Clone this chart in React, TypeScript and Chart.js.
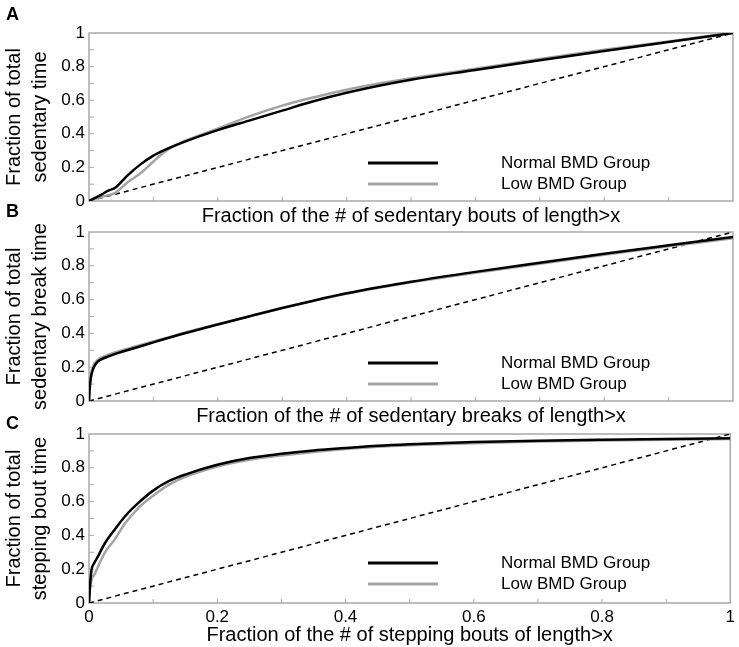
import React, { useEffect, useRef } from "react"
import { Chart, registerables } from "chart.js"

Chart.register(...registerables)

const FONT = "'Liberation Sans', Arial, Helvetica, sans-serif"
const GRAY = "#a3a3a3"
const BOX = "#a9a9a9"

const seriesNames = ["Normal BMD Group", "Low BMD Group"]
const axisTicks = [0, 0.2, 0.4, 0.6, 0.8, 1]
const minorStep = 0.1
const diagonal = [0, 1]

// A: sedentary bouts
const aX = [0, 0.01, 0.02, 0.03, 0.04, 0.06, 0.08, 0.1, 0.12, 0.15, 0.2, 0.25, 0.3, 0.35, 0.4, 0.45, 0.5, 0.6, 0.7, 0.8, 0.9, 0.95, 1]
const aNormal = [0, 0.02, 0.04, 0.062, 0.077, 0.153, 0.218, 0.27, 0.308, 0.355, 0.422, 0.48, 0.538, 0.595, 0.644, 0.686, 0.722, 0.78, 0.838, 0.893, 0.946, 0.973, 1]
const aLow = [0, 0.012, 0.025, 0.035, 0.047, 0.112, 0.165, 0.235, 0.3, 0.36, 0.43, 0.505, 0.568, 0.618, 0.662, 0.699, 0.73, 0.787, 0.845, 0.9, 0.95, 0.976, 1]

// B: sedentary breaks
const bX = [0, 0.001, 0.003, 0.007, 0.014, 0.025, 0.05, 0.075, 0.1, 0.15, 0.2, 0.25, 0.3, 0.35, 0.4, 0.45, 0.5, 0.6, 0.7, 0.8, 0.9, 1]
const bNormal = [0, 0.07, 0.14, 0.195, 0.235, 0.256, 0.29, 0.318, 0.347, 0.402, 0.453, 0.502, 0.55, 0.595, 0.637, 0.673, 0.706, 0.764, 0.818, 0.871, 0.921, 0.97]
const bLow = [0, 0.09, 0.16, 0.21, 0.245, 0.266, 0.298, 0.325, 0.352, 0.406, 0.455, 0.503, 0.55, 0.594, 0.635, 0.67, 0.702, 0.759, 0.812, 0.865, 0.915, 0.963]

// C: stepping bouts
const cX = [0, 0.0015, 0.004, 0.008, 0.014, 0.025, 0.04, 0.056, 0.077, 0.1, 0.125, 0.15, 0.2, 0.25, 0.3, 0.35, 0.4, 0.45, 0.5, 0.6, 0.7, 0.8, 0.9, 1]
const cNormal = [0, 0.098, 0.197, 0.235, 0.276, 0.355, 0.434, 0.512, 0.592, 0.665, 0.722, 0.76, 0.818, 0.858, 0.883, 0.903, 0.917, 0.931, 0.94, 0.952, 0.96, 0.966, 0.971, 0.975]
const cLow = [0, 0.079, 0.14, 0.165, 0.215, 0.3, 0.375, 0.47, 0.562, 0.635, 0.7, 0.746, 0.808, 0.848, 0.873, 0.894, 0.911, 0.925, 0.934, 0.946, 0.955, 0.961, 0.966, 0.97]

// box round the plot with inward minor ticks, MATLAB style
const frame = {
  id: "frame",
  beforeDatasetsDraw(chart: any) {
    const { ctx, chartArea: a, scales } = chart
    ctx.save()
    ctx.strokeStyle = BOX
    ctx.lineWidth = 1.5
    ctx.strokeRect(a.left, a.top, a.right - a.left, a.bottom - a.top)
    ctx.lineWidth = 1
    ctx.beginPath()
    for (let k = 1; k < 10; k++) {
      const v = k * minorStep
      const px = scales.x.getPixelForValue(v)
      const py = scales.y.getPixelForValue(v)
      ctx.moveTo(px, a.bottom)
      ctx.lineTo(px, a.bottom - 4)
      ctx.moveTo(a.left, py)
      ctx.lineTo(a.left + 5, py)
    }
    ctx.stroke()
    ctx.restore()
  },
}

const lineKey = {
  id: "lineKey",
  afterDatasetsDraw(chart: any, _args: any, opts: any) {
    const { ctx, chartArea: a } = chart
    ctx.save()
    ctx.font = `17px ${FONT}`
    ctx.textBaseline = "middle"
    ctx.fillStyle = "#000"
    opts.rows.forEach((row: number, i: number) => {
      const ds = chart.data.datasets[i]
      const y = a.bottom - row
      ctx.strokeStyle = ds.borderColor
      ctx.lineWidth = 3
      ctx.beginPath()
      ctx.moveTo(a.left + 279, y)
      ctx.lineTo(a.left + 349, y)
      ctx.stroke()
      ctx.fillText(ds.label, a.left + 412, y)
    })
    ctx.restore()
  },
}

interface PanelProps {
  top: number
  height: number
  padTop: number
  xHeight: number
  xTitlePad: number
  xs: number[]
  normal: number[]
  low: number[]
  yTitle: string[]
  xTitle: string
  showXTicks: boolean
  keyRows: number[]
}

const Panel: React.FC<PanelProps> = (p) => {
  const chartRef = useRef<HTMLCanvasElement>(null)
  const chartInstance = useRef<Chart | null>(null)

  useEffect(() => {
    if (!chartRef.current) return
    if (chartInstance.current) chartInstance.current.destroy()
    const ctx = chartRef.current.getContext("2d")
    if (!ctx) return

    const setTicks = (scale: any) => {
      scale.ticks = axisTicks.map((v) => ({ value: v }))
    }

    chartInstance.current = new Chart(ctx, {
      type: "scatter",
      data: {
        datasets: [
          {
            label: seriesNames[0],
            data: p.xs.map((x, i) => ({ x, y: p.normal[i] })),
            showLine: true,
            borderColor: "#000",
            borderWidth: 2.5,
            pointRadius: 0,
            cubicInterpolationMode: "monotone",
          },
          {
            label: seriesNames[1],
            data: p.xs.map((x, i) => ({ x, y: p.low[i] })),
            showLine: true,
            borderColor: GRAY,
            borderWidth: 2.5,
            pointRadius: 0,
            cubicInterpolationMode: "monotone",
          },
          {
            label: "diagonal",
            data: diagonal.map((v) => ({ x: v, y: v })),
            showLine: true,
            borderColor: "#000",
            borderWidth: 1.5,
            borderDash: [5, 4],
            pointRadius: 0,
          },
        ],
      },
      options: {
        responsive: true,
        maintainAspectRatio: false,
        animation: false,
        events: [],
        layout: { padding: { top: p.padTop, right: 6, left: 0, bottom: 0 } },
        scales: {
          x: {
            type: "linear",
            min: 0,
            max: 1,
            grid: { display: false, drawTicks: false },
            border: { display: false },
            afterBuildTicks: setTicks,
            ticks: {
              display: p.showXTicks,
              padding: 4,
              maxRotation: 0,
              autoSkip: false,
              color: "#000",
              font: { family: FONT, size: 17 },
              callback: (v: any) => String(v),
            },
            title: {
              display: true,
              text: p.xTitle,
              color: "#000",
              font: { family: FONT, size: 20, lineHeight: 1 },
              padding: { top: 0, bottom: p.xTitlePad },
            },
            afterFit: (s: any) => {
              s.height = p.xHeight
            },
          },
          y: {
            type: "linear",
            min: 0,
            max: 1,
            grid: { display: false, drawTicks: false },
            border: { display: false },
            afterBuildTicks: setTicks,
            ticks: {
              padding: 4,
              color: "#000",
              font: { family: FONT, size: 17 },
              callback: (v: any) => String(v),
            },
            title: {
              display: true,
              text: p.yTitle,
              color: "#000",
              font: { family: FONT, size: 20, lineHeight: 1.3 },
              padding: { top: 1, bottom: 0 },
            },
            afterFit: (s: any) => {
              s.width = 89
            },
          },
        },
        plugins: {
          legend: { display: false },
          tooltip: { enabled: false },
          lineKey: { rows: p.keyRows },
        } as any,
      },
      plugins: [frame, lineKey],
    })

    return () => {
      if (chartInstance.current) {
        chartInstance.current.destroy()
        chartInstance.current = null
      }
    }
  }, [])

  return (
    <div style={{ position: "absolute", left: 0, top: p.top, width: 739, height: p.height }}>
      <canvas ref={chartRef}></canvas>
    </div>
  )
}

const letterStyle = (top: number): React.CSSProperties => ({
  position: "absolute",
  left: 6,
  top,
  fontFamily: FONT,
  fontWeight: "bold",
  fontSize: 18,
  lineHeight: "18px",
})

export default function App() {
  return (
    <div style={{ position: "absolute", left: 0, top: 0, width: 739, height: 647, background: "#fff", overflow: "hidden" }}>
      <Panel
        top={0}
        height={226}
        padTop={33}
        xHeight={25}
        xTitlePad={0}
        xs={aX}
        normal={aNormal}
        low={aLow}
        yTitle={["Fraction of total", "sedentary time"]}
        xTitle="Fraction of the # of sedentary bouts of length>x"
        showXTicks={false}
        keyRows={[38, 17]}
      />
      <Panel
        top={206}
        height={220}
        padTop={26}
        xHeight={25}
        xTitlePad={0}
        xs={bX}
        normal={bNormal}
        low={bLow}
        yTitle={["Fraction of total", "sedentary break time"]}
        xTitle="Fraction of the # of sedentary breaks of length>x"
        showXTicks={false}
        keyRows={[38, 17]}
      />
      <Panel
        top={408}
        height={239}
        padTop={26}
        xHeight={44}
        xTitlePad={2}
        xs={cX}
        normal={cNormal}
        low={cLow}
        yTitle={["Fraction of total", "stepping bout time"]}
        xTitle="Fraction of the # of stepping bouts of length>x"
        showXTicks={true}
        keyRows={[40, 19]}
      />
      <div style={letterStyle(5)}>A</div>
      <div style={letterStyle(202)}>B</div>
      <div style={letterStyle(414)}>C</div>
    </div>
  )
}
